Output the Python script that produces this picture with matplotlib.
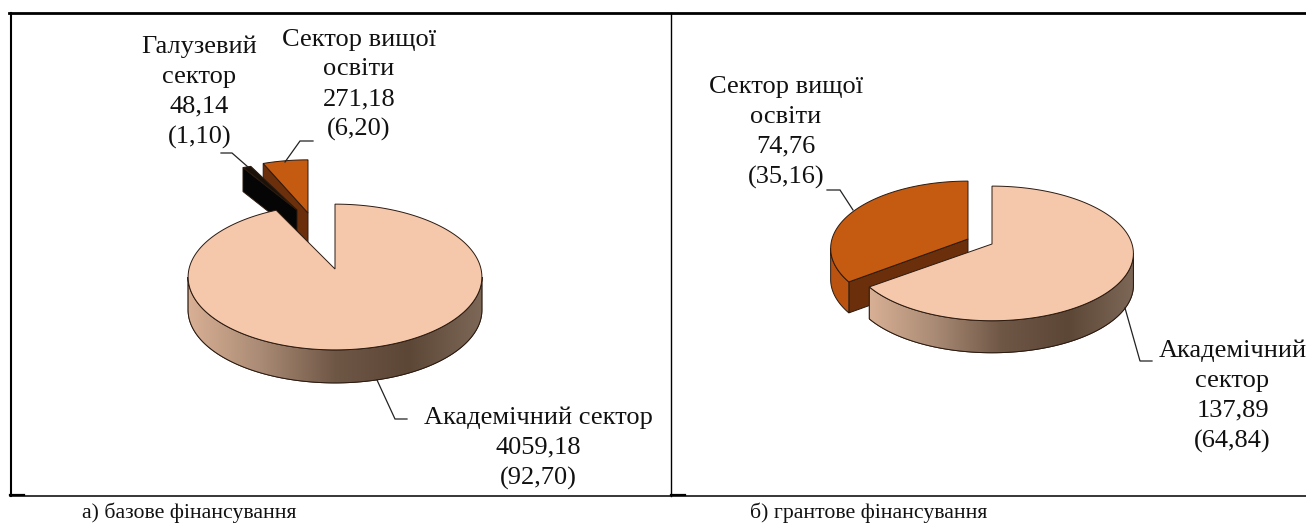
import matplotlib

matplotlib.use("Agg")
import matplotlib.pyplot as plt
import numpy as np
from matplotlib.colors import LinearSegmentedColormap
from matplotlib.patches import Polygon

plt.rcParams["font.family"] = ["Liberation Serif", "DejaVu Serif"]

# values
base_names = ["Академічний сектор", "Галузевий\nсектор", "Сектор вищої\nосвіти"]
base_values = ["4059,18", "48,14", "271,18"]
base_shares = [92.70, 1.10, 6.20]

grant_names = ["Академічний\nсектор", "Сектор вищої\nосвіти"]
grant_values = ["137,89", "74,76"]
grant_shares = [64.84, 35.16]

captions = ["а) базове фінансування", "б) грантове фінансування"]

TOP = "#f5c8ab"
ORANGE = "#c55a11"
ORANGE_SIDE = "#b9530f"
BROWN = "#6b300b"
EDGE = "#2b1a10"

wall_cmap = LinearSegmentedColormap.from_list(
    "wall", ["#d8b095", "#a98a74", "#6f5746", "#5c4636", "#7d6757"]
)


def rim(t, cx, cy, b, a, k):
    # t in degrees clockwise from 12 o'clock, projected circle with perspective k
    t = np.radians(t)
    u, v = np.sin(t), np.cos(t)
    w = 1 + k * v
    return cx + b * u / w, cy - a * v / w


def slice_3d(ax, start, end, cx, cy, b, a, k, depth, top, side=None, wall=None, z=2):
    """One pie slice, start and end are cumulative percent of the circle."""
    a0, a1 = start * 3.6, end * 3.6
    t = np.linspace(a0, a1, 200)
    x, y = rim(t, cx, cy, b, a, k)

    # radial wall on the far end of the slice, seen when the neighbour is pulled out
    if wall is not None:
        xw, yw = rim(a0, cx, cy, b, a, k)
        ax.add_patch(
            Polygon(
                [(cx, cy), (xw, yw), (xw, yw + depth), (cx, cy + depth)],
                fc=wall, ec=EDGE, lw=0.7, zorder=z,
            )
        )

    # outer side, only the front part of the rim shows
    edge_t = np.degrees(np.arccos(-k))
    f0, f1 = max(a0, edge_t), min(a1, 360 - edge_t)
    if f1 > f0:
        tf = np.linspace(f0, f1, 200)
        xf, yf = rim(tf, cx, cy, b, a, k)
        pts = np.r_[np.c_[xf, yf], np.c_[xf, yf + depth][::-1]]
        poly = Polygon(pts, fc="none" if side is None else side, ec=EDGE, lw=0.7, zorder=z)
        ax.add_patch(poly)
        if side is None:
            img = ax.imshow(
                np.linspace(0, 1, 256)[None, :],
                cmap=wall_cmap,
                extent=(xf.min(), xf.max(), yf.max() + depth, yf.min()),
                aspect="auto",
                zorder=z,
            )
            img.set_clip_path(poly)
            ax.add_patch(Polygon(pts, fc="none", ec=EDGE, lw=0.7, zorder=z + 0.1))

    pts = np.r_[[(cx, cy)], np.c_[x, y]]
    ax.add_patch(Polygon(pts, fc=top, ec=EDGE, lw=0.7, zorder=z + 0.2))


def leader(ax, xs, ys):
    ax.plot(xs, ys, color="#222222", lw=0.9, zorder=6, solid_joinstyle="miter")


def label(ax, x, y, name, value, share):
    ax.text(
        x, y, f"{name}\n{value}\n({share:.2f})".replace(".", ","),
        ha="center", va="center", fontsize=19, linespacing=1.46, color="#111111", zorder=7,
    )


fig = plt.figure(figsize=(13.06, 5.25), dpi=100)
ax = fig.add_axes([0, 0, 1, 1])
ax.set_xlim(0, 1306)
ax.set_ylim(525, 0)
ax.axis("off")

# frame of the table around both charts
ax.plot([9, 1306], [13, 13], color="black", lw=2.0)
ax.plot([10.5, 10.5], [13, 496], color="black", lw=1.5)
ax.plot([10, 1306], [495.7, 495.7], color="black", lw=1.1)
ax.plot([671, 671], [13, 496], color="black", lw=1.0)
ax.plot([10, 24], [495, 495], color="black", lw=1.6)
ax.plot([671, 685], [495, 495], color="black", lw=1.6)

# a) base funding
b = np.cumsum([0] + base_shares)
slice_3d(ax, b[2], b[3], 308, 213, 130, 59, 0.11, 30, ORANGE, wall=BROWN, z=2)
slice_3d(ax, b[1], b[2], 297, 210, 134, 52, 0.11, 24, "#1a1208", wall="#050505", z=3)
slice_3d(ax, b[0], b[1], 335, 269, 146, 72, 0.11, 33, TOP, z=4)

leader(ax, [377, 395, 407], [380, 419, 419])
leader(ax, [248, 232, 221], [167, 153, 153])
leader(ax, [285, 300, 313], [162, 141, 141])

label(ax, 538, 448, base_names[0], base_values[0], base_shares[0])
label(ax, 199.5, 92, base_names[1], base_values[1], base_shares[1])
label(ax, 359, 85, base_names[2], base_values[2], base_shares[2])

# b) grant funding
g = np.cumsum([0] + grant_shares)
slice_3d(ax, g[1], g[2], 968, 239, 136, 66, 0.14, 31, ORANGE, side=ORANGE_SIDE, wall=BROWN, z=2)
slice_3d(ax, g[0], g[1], 992, 244, 140, 66, 0.14, 32, TOP, z=4)

leader(ax, [1125, 1140, 1152], [308, 361, 361])
leader(ax, [853, 840, 827], [210, 190, 190])

label(ax, 1232.5, 396, grant_names[0], grant_values[0], grant_shares[0])
label(ax, 786, 132.5, grant_names[1], grant_values[1], grant_shares[1])

ax.text(82, 513, captions[0], ha="left", va="center", fontsize=15.7, color="#111111")
ax.text(750, 513, captions[1], ha="left", va="center", fontsize=15.7, color="#111111")

ax.set_xlim(0, 1306)
ax.set_ylim(525, 0)
fig.savefig("out.png", dpi=100)
